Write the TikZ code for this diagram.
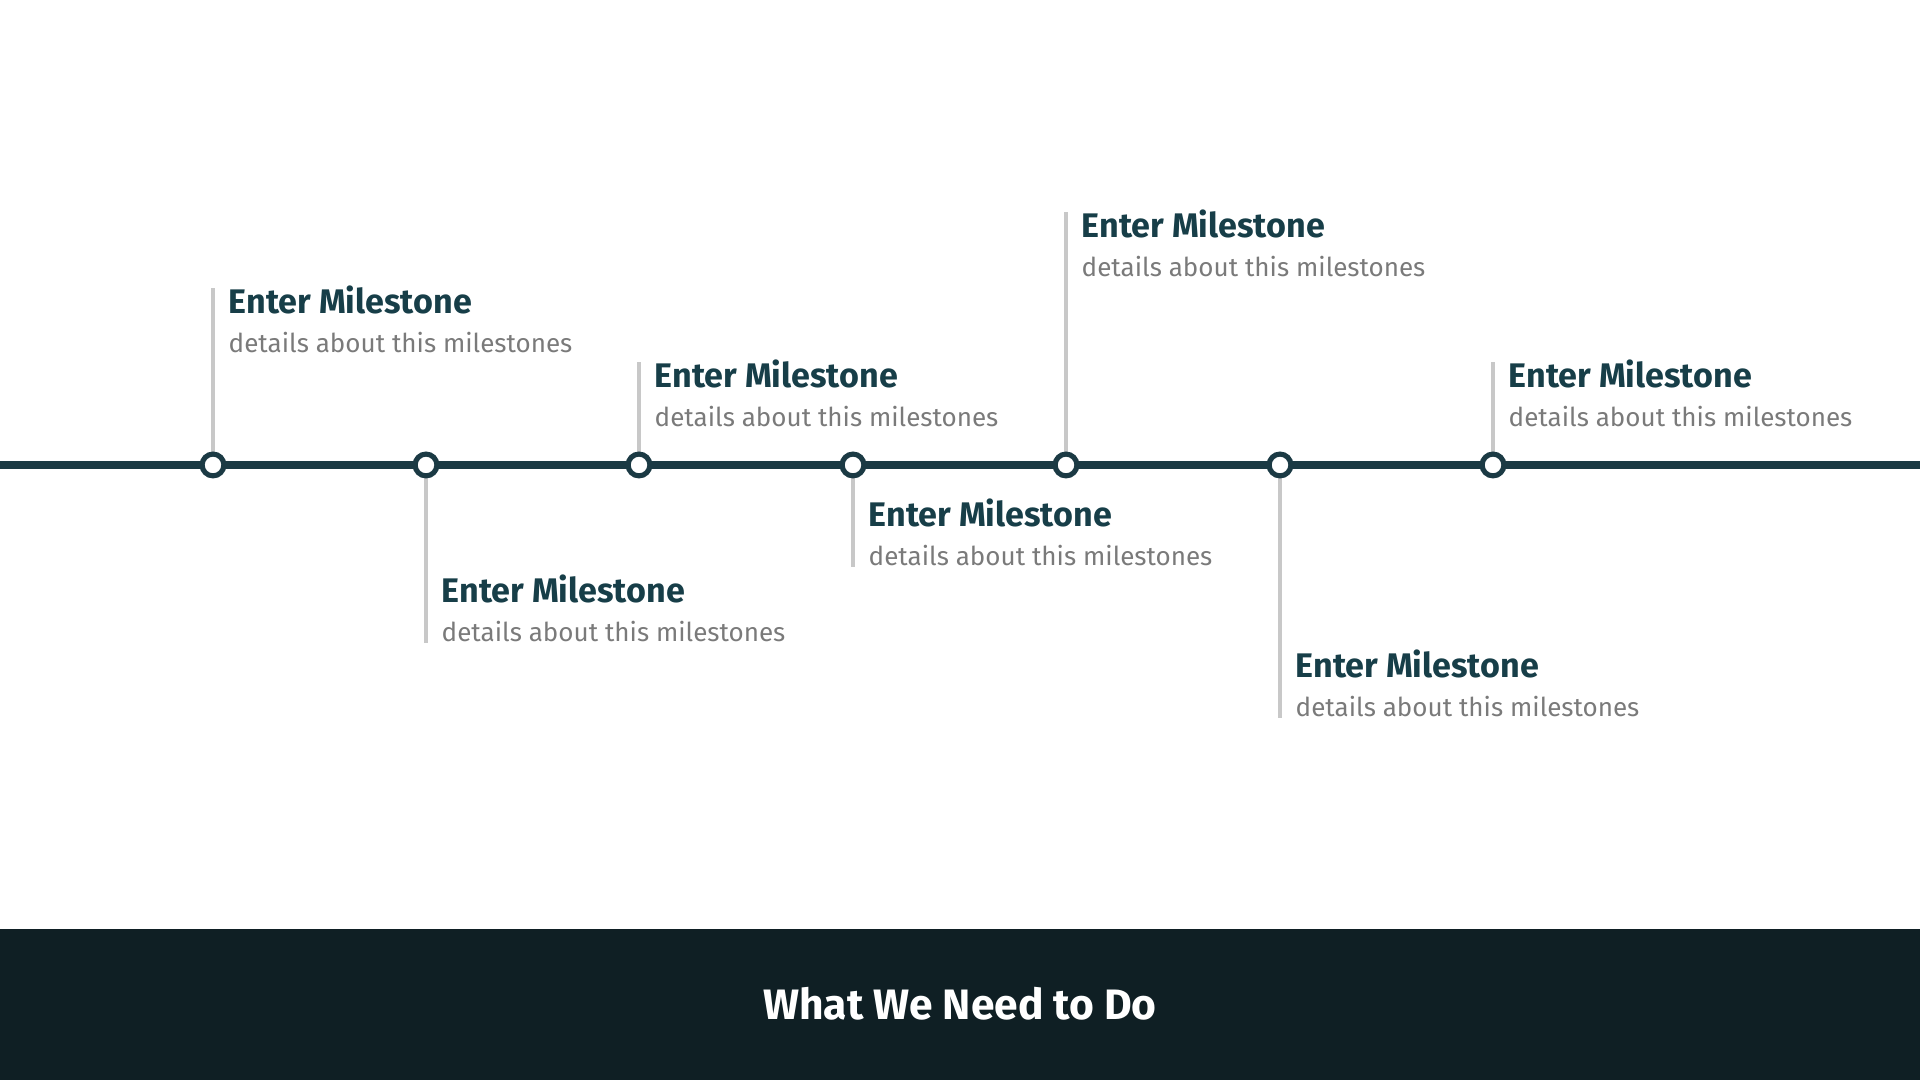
\documentclass[tikz,border=0pt]{standalone}
\usepackage{fontspec}
\setmainfont{Fira Sans}
\begin{document}
\begin{tikzpicture}[x=0.01cm,y=-0.01cm,
  head/.style={anchor=west,inner sep=0,font=\fontsize{9.7}{12}\selectfont\bfseries\color{headc}},
  det/.style={anchor=west,inner sep=0,font=\fontsize{7.4}{9}\selectfont\color{detc}},
  stem/.style={draw=stemc,line width=0.9pt},
  dot/.style={circle,draw=linec,fill=white,line width=1.45pt,minimum size=6.2pt,inner sep=0}]
\definecolor{headc}{HTML}{173E48}
\definecolor{detc}{HTML}{7A7A7A}
\definecolor{stemc}{HTML}{C8C8C8}
\definecolor{linec}{HTML}{1B3A44}
\definecolor{bandc}{HTML}{0F1F24}
\useasboundingbox (0,0) rectangle (1920,1080);
\fill[bandc] (0,929) rectangle (1920,1080);
\node[font=\fontsize{12.1}{15}\selectfont\bfseries,text=white] (title) at (960,1004) {What We Need to Do};
\coordinate (L) at (0,465); \coordinate (R) at (1920,465);
\foreach \i/\x/\yy in {1/213/288,2/426/643,3/639/362,4/853/567,5/1066/212,6/1280/718,7/1493/362}{
  \coordinate (s\i) at (\x,\yy);
}
\foreach \i in {1,...,7}{\coordinate (c\i) at (s\i |- L);}
\foreach \i in {1,...,7}{\draw[stem] (c\i) -- (s\i);}
\draw[linec,line width=2pt] (L) -- (R);
\foreach \i in {1,...,7}{\node[dot] (d\i) at (c\i) {};}
\foreach \i/\x/\yy in {1/213/288,3/639/362,5/1066/212,7/1493/362}{
  \node[head] (hh\i) at (\x+15,\yy+12) {Enter Milestone};
  \node[det] (dd\i) at (\x+15,\yy+55) {details about this milestones};
}
\foreach \i/\x/\yy in {2/426/643,4/853/567,6/1280/718}{
  \node[head] (hh\i) at (\x+15,\yy-54) {Enter Milestone};
  \node[det] (dd\i) at (\x+15,\yy-11) {details about this milestones};
}
\end{tikzpicture}
\end{document}
